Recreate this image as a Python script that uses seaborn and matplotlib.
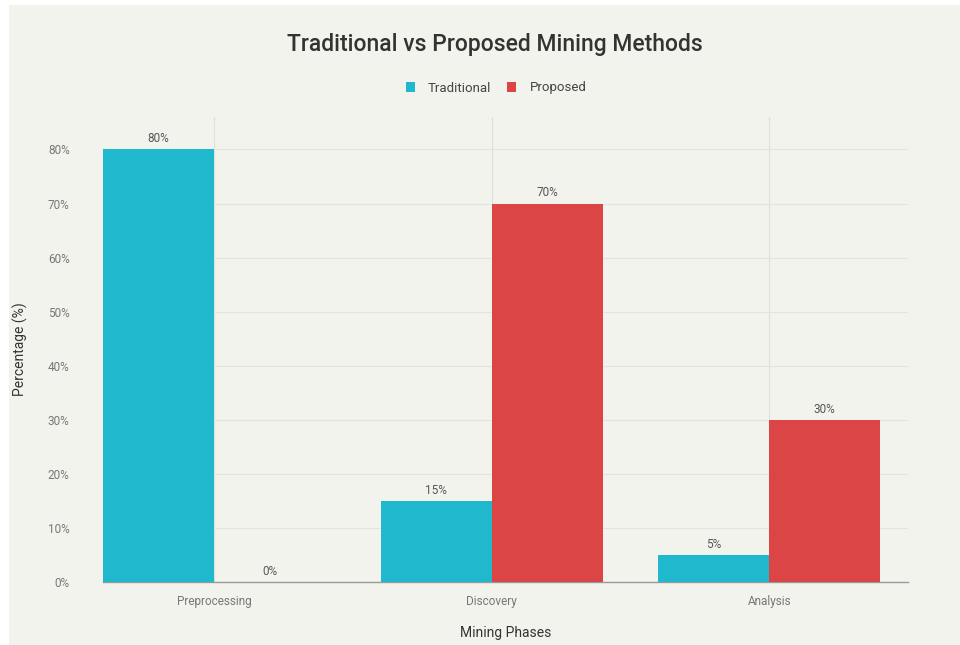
import matplotlib
matplotlib.use("Agg")
import matplotlib.pyplot as plt
import seaborn as sns
import pandas as pd
from matplotlib.patches import Rectangle, Patch

phases = ["Preprocessing", "Discovery", "Analysis"]
traditional = [80, 15, 5]
proposed = [0, 70, 30]
methods = ["Traditional", "Proposed"]
colors = ["#1FB8CD", "#DB4545"]
yticks = [0, 10, 20, 30, 40, 50, 60, 70, 80]

df = pd.DataFrame({
    "Phase": phases * 2,
    "Method": [methods[0]] * 3 + [methods[1]] * 3,
    "Value": traditional + proposed,
})

sns.set_theme(style="white")
plt.rcParams['font.family'] = ['Roboto', 'DejaVu Sans']

BG = "#F3F3EE"
fig = plt.figure(figsize=(9.6, 6.45), dpi=100, facecolor="white")
fig.patches.append(Rectangle((9/960, 0), 1, 1 - 5/645, transform=fig.transFigure,
                             facecolor=BG, edgecolor="none", zorder=-10))
ax = fig.add_axes([103/960, 1 - 582/645, (908-103)/960, (582-117)/645])
ax.set_facecolor(BG)

sns.barplot(data=df, x="Phase", y="Value", hue="Method", palette=colors,
            width=0.8, saturation=1, ax=ax, legend=False, zorder=3, linewidth=0)

for cont in ax.containers:
    ax.bar_label(cont, labels=[f"{v:.0f}%" for v in cont.datavalues],
                 padding=3, fontsize=8.5, color="#555555")

ax.set_xlim(-0.4, 2.5)
ax.set_ylim(0, 86)
ax.set_yticks(yticks)
ax.set_yticklabels([f"{v}%" for v in yticks])
ax.grid(axis="y", color="#E4E4DE", linewidth=0.8, zorder=0)
ax.grid(axis="x", color="#E0E0DA", linewidth=0.8, zorder=0)
ax.set_axisbelow(True)
for s in ["top", "right", "left"]:
    ax.spines[s].set_visible(False)
ax.spines["bottom"].set_color("#999999")
ax.spines["bottom"].set_linewidth(1.0)
ax.tick_params(axis="both", length=0, labelsize=8.5, colors="#777777")
ax.tick_params(axis="y", pad=24)
ax.tick_params(axis="x", pad=9)

ax.set_xlabel("Mining Phases", fontsize=10, color="#333333", labelpad=13)
ax.set_ylabel("Percentage (%)", fontsize=10, color="#333333", labelpad=14)

fig.text(0.5 + 15/960, 1 - 45/645, "Traditional vs Proposed Mining Methods",
         ha="center", va="center", fontsize=16.5, fontweight="medium", color="#333333")

handles = [Patch(facecolor=c, edgecolor="none") for c in colors]
fig.legend(handles, methods, loc="center", bbox_to_anchor=(496/960, 1 - 88/645),
           ncol=2, frameon=False, fontsize=9.5, handlelength=0.7, handleheight=0.7,
           columnspacing=1.2, handletextpad=1.0, labelcolor="#444444")

fig.savefig("out.png", dpi=100, facecolor=fig.get_facecolor())
